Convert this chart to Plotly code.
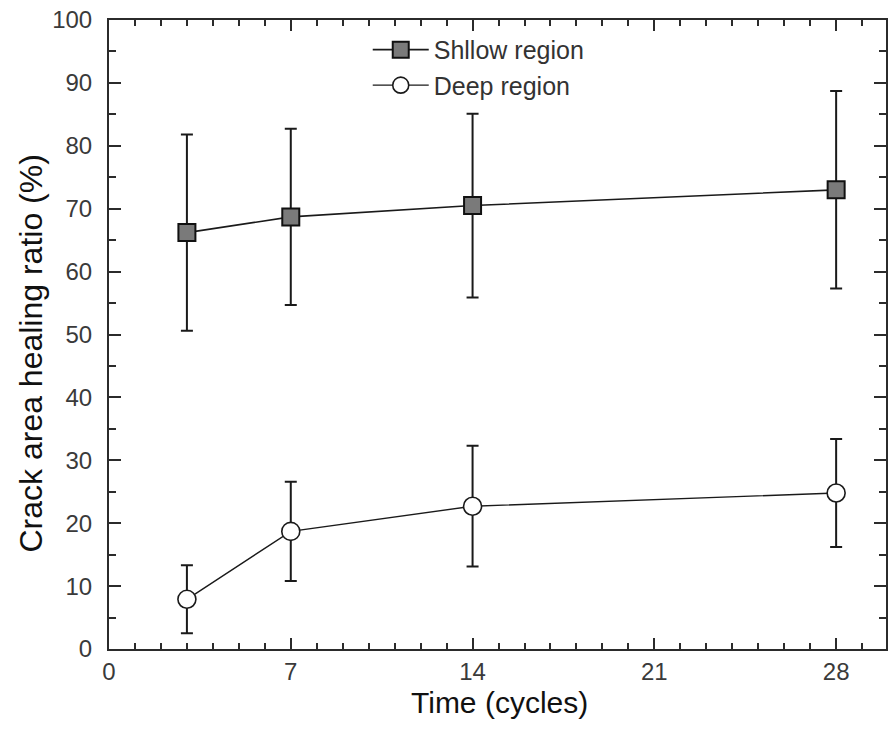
import plotly.graph_objects as go

# Healing time (cycles)
time_cycles = [3, 7, 14, 28]

# Crack area healing ratio (%) and standard deviation per region
shallow_mean = [66.2, 68.7, 70.5, 73.0]
shallow_err = [15.6, 14.0, 14.6, 15.7]
deep_mean = [7.9, 18.7, 22.7, 24.8]
deep_err = [5.4, 7.9, 9.6, 8.6]

x_ticks = [0, 7, 14, 21, 28]
y_ticks = [0, 10, 20, 30, 40, 50, 60, 70, 80, 90, 100]

FONT = "Arial, 'Liberation Sans', sans-serif"
INK = "#2b2b2b"

fig = go.Figure()

fig.add_trace(go.Scatter(
    x=time_cycles, y=shallow_mean, name="Shllow region",
    mode="lines+markers",
    line=dict(color="#1a1a1a", width=1.6),
    marker=dict(symbol="square", size=17, color="#7a7a7a",
                line=dict(color="#111111", width=2)),
    error_y=dict(type="data", array=shallow_err, visible=True,
                 color="#1a1a1a", thickness=2, width=6),
))

fig.add_trace(go.Scatter(
    x=time_cycles, y=deep_mean, name="Deep region",
    mode="lines+markers",
    line=dict(color="#1a1a1a", width=1.4),
    marker=dict(symbol="circle", size=18, color="white",
                line=dict(color="#1a1a1a", width=1.6)),
    error_y=dict(type="data", array=deep_err, visible=True,
                 color="#1a1a1a", thickness=2, width=6),
))

axis_common = dict(
    showline=True, linecolor=INK, linewidth=2,
    mirror="ticks", ticks="inside", tickcolor=INK, tickwidth=2,
    showgrid=False, zeroline=False,
    tickfont=dict(family=FONT, size=24, color="#3a3a3a"),
)

fig.update_xaxes(
    **axis_common,
    range=[0, 29.92], tickvals=x_ticks, ticklen=11,
    minor=dict(dtick=1, tick0=0, ticks="inside", ticklen=6,
               tickcolor=INK, tickwidth=2, showgrid=False),
    ticklabelstandoff=0,
)

fig.update_yaxes(
    **axis_common,
    range=[0, 100], tickvals=y_ticks, ticklen=12,
    minor=dict(dtick=5, tick0=0, ticks="inside", ticklen=7,
               tickcolor=INK, tickwidth=2, showgrid=False),
    ticklabelstandoff=10,
)

# Axis titles
fig.add_annotation(
    text="Time (cycles)", xref="paper", yref="paper",
    x=0.503, y=-0.085, xanchor="center", yanchor="middle",
    showarrow=False, font=dict(family=FONT, size=30, color="#111111"),
)
fig.add_annotation(
    text="Crack area healing ratio (%)", xref="paper", yref="paper",
    x=-0.101, y=0.469, xanchor="center", yanchor="middle", textangle=-90,
    showarrow=False, font=dict(family=FONT, size=32, color="#111111"),
)

fig.update_layout(
    width=888, height=738,
    margin=dict(l=109, r=0, t=20, b=89),
    paper_bgcolor="white", plot_bgcolor="white",
    font=dict(family=FONT, color=INK),
    showlegend=True,
    legend=dict(
        x=0.333, y=0.989, xanchor="left", yanchor="top",
        bgcolor="rgba(0,0,0,0)", borderwidth=0,
        itemwidth=56,
        font=dict(family=FONT, size=25, color="#333333"),
        tracegroupgap=0,
    ),
)

fig.write_html("out.html")
